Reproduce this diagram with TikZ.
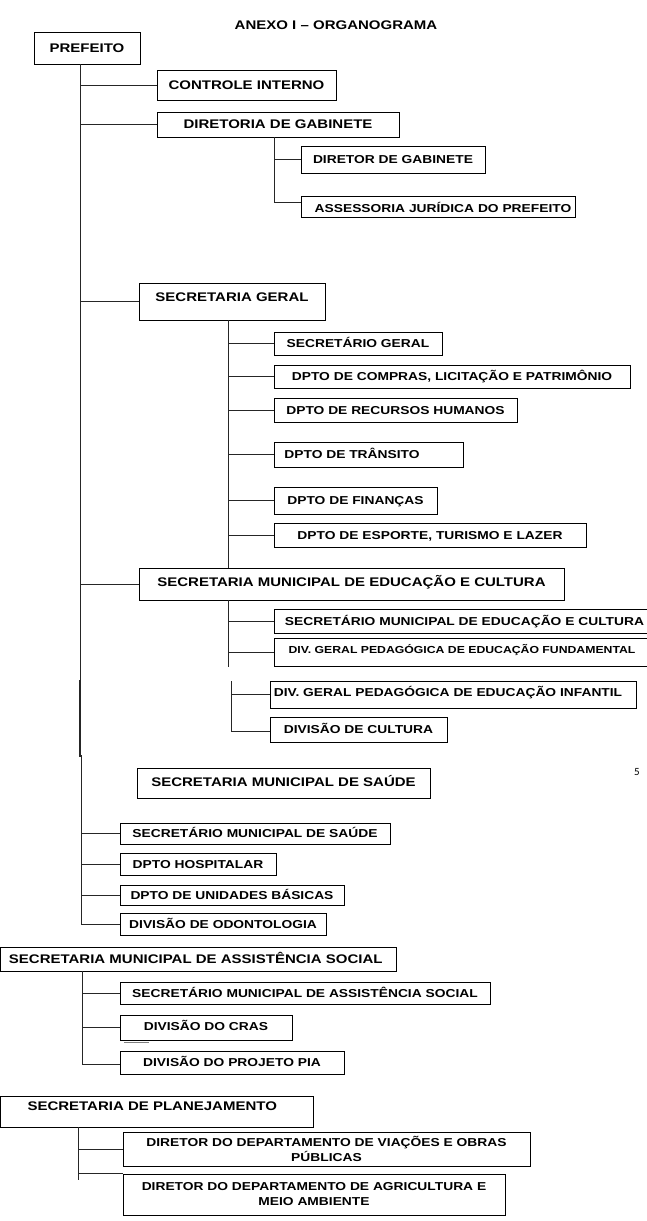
\documentclass[tikz,border=0pt]{standalone}
\usepackage{fontspec}
\setmainfont{Liberation Sans}[FakeStretch=1.2]
\newfontfamily\carl{Carlito}
\newcommand{\bx}[6]{\node[#1, minimum width={#4-#2}, minimum height={#5-#3}] (#6) at ({(#2+#4)/2},{(#3+#5)/2})}
\begin{document}
\begin{tikzpicture}[x=1pt,y=-1pt,
  lone/.style={draw=black, line width=0.9pt, inner sep=0pt, font=\fontsize{12.5}{15}\selectfont\bfseries, text height=8.95pt, text depth=0pt},
  ltwo/.style={lone, font=\fontsize{11.5}{14}\selectfont\bfseries, text height=8.23pt},
  lthree/.style={lone, font=\fontsize{10.2}{12}\selectfont\bfseries, text height=7.3pt},
  ltwoml/.style={draw=black, line width=0.9pt, inner sep=0pt, font=\fontsize{11.5}{15}\selectfont\bfseries, align=center},
  conn/.style={draw=black!85, line width=0.8pt}]
\useasboundingbox (0,0) rectangle (647,1221);
\clip (0,0) rectangle (647,1221);
\fill[white] (0,0) rectangle (647,1221);

\node[font=\fontsize{12.5}{15}\selectfont\bfseries] (title) at (336,25) {ANEXO I – ORGANOGRAMA};
\node[font=\carl\fontsize{11}{13}\selectfont] (pg) at (637,772) {5};

\bx{lone}{34}{32}{140}{64}{pref}{PREFEITO};
\bx{lone}{157}{70}{336}{100}{ci}{CONTROLE INTERNO};
\bx{lone}{157}{112}{399}{137}{dg}{DIRETORIA DE GABINETE};
\bx{ltwo}{301}{146}{485}{173}{dirgab}{DIRETOR DE GABINETE};
\bx{ltwo}{301}{196}{575}{217}{assess}{\hspace*{10pt}\raisebox{-2pt}{ASSESSORIA JURÍDICA DO PREFEITO}};
\bx{lone}{139}{283}{325}{320}{sg}{\raisebox{4pt}{SECRETARIA GERAL}};
\bx{ltwo}{274}{332}{442}{355}{secg}{SECRETÁRIO GERAL};
\bx{ltwo}{274}{365}{630}{388}{compras}{DPTO DE COMPRAS, LICITAÇÃO E PATRIMÔNIO};
\bx{ltwo}{274}{398}{517}{422}{rh}{DPTO DE RECURSOS HUMANOS};
\bx{ltwo}{274}{442}{463}{467}{trans}{\hspace*{-33pt}DPTO DE TRÂNSITO};
\bx{ltwo}{274}{487}{437}{514}{fin}{DPTO DE FINANÇAS};
\bx{ltwo}{274}{523}{586}{547}{esp}{DPTO DE ESPORTE, TURISMO E LAZER};
\bx{lone}{139}{568}{564}{600}{smec}{\raisebox{2pt}{SECRETARIA MUNICIPAL DE EDUCAÇÃO E CULTURA}};
\bx{ltwo}{274}{609}{655}{633}{secedu}{SECRETÁRIO MUNICIPAL DE EDUCAÇÃO E CULTURA};
\bx{lthree}{274}{638}{650}{666}{divfund}{\raisebox{2.5pt}{DIV. GERAL PEDAGÓGICA DE EDUCAÇÃO FUNDAMENTAL}};
\bx{ltwo}{270}{681}{636}{708}{divinf}{\hspace*{-10pt}\raisebox{2.5pt}{DIV. GERAL PEDAGÓGICA DE EDUCAÇÃO INFANTIL}};
\bx{ltwo}{270}{717}{447}{742}{divcult}{DIVISÃO DE CULTURA};
\bx{lone}{137}{768}{430}{798}{sms}{\raisebox{1pt}{SECRETARIA MUNICIPAL DE SAÚDE}};
\bx{ltwo}{120}{823}{390}{844}{ssaude}{SECRETÁRIO MUNICIPAL DE SAÚDE};
\bx{ltwo}{120}{853}{276}{875}{hosp}{DPTO HOSPITALAR};
\bx{ltwo}{120}{885}{344}{905}{unid}{DPTO DE UNIDADES BÁSICAS};
\bx{ltwo}{120}{913}{326}{935}{odont}{DIVISÃO DE ODONTOLOGIA};
\bx{lone}{0.5}{947}{396}{971}{smas}{\hspace*{-5pt}SECRETARIA MUNICIPAL DE ASSISTÊNCIA SOCIAL};
\bx{ltwo}{120}{982}{490}{1004}{sas}{SECRETÁRIO MUNICIPAL DE ASSISTÊNCIA SOCIAL};
\bx{ltwo}{120}{1015}{292}{1040}{cras}{\raisebox{1.5pt}{DIVISÃO DO CRAS}};
\bx{ltwo}{120}{1051}{344}{1074}{pia}{DIVISÃO DO PROJETO PIA};
\bx{lone}{0.5}{1096}{313}{1127}{plan}{\hspace*{-9pt}\raisebox{5pt}{SECRETARIA DE PLANEJAMENTO}};
\bx{ltwoml}{123}{1132}{530}{1166}{viac}{DIRETOR DO DEPARTAMENTO DE VIAÇÕES E OBRAS\\PÚBLICAS};
\bx{ltwoml}{123}{1174}{505}{1215}{agri}{DIRETOR DO DEPARTAMENTO DE AGRICULTURA E\\MEIO AMBIENTE};

% main trunk
\coordinate (m0) at (80,64);
\coordinate (m1) at (80,757);
\coordinate (m2) at (81.5,755);
\coordinate (m3) at (81.5,812);
\coordinate (m4) at (81,812);
\draw[conn] (m0) -- (m1);
\draw[conn, line width=1.3pt] (80,680) -- (m1);
\draw[conn] (m2) -- (m3);
\draw[conn] (m4) |- (odont.west);
\foreach \n in {ci,dg,sg,smec} \draw[conn] (\n.west -| m0) -- (\n.west);
\foreach \n in {ssaude,hosp,unid} \draw[conn] (\n.west -| m4) -- (\n.west);

% gabinete
\coordinate (g0) at (274,137);
\draw[conn] (g0) |- ([yshift=4.5pt]assess.west);
\draw[conn] (dirgab.west -| g0) -- (dirgab.west);

% secretaria geral
\coordinate (s0) at (228,320);
\coordinate (s1) at (228,568);
\draw[conn] (s0) -- (s1);
\foreach \n in {secg,compras,rh,trans,fin,esp} \draw[conn] (\n.west -| s0) -- (\n.west);

% educacao
\coordinate (e0) at (228,600);
\coordinate (e1) at (228,667);
\draw[conn] (e0) -- (e1);
\foreach \n in {secedu,divfund} \draw[conn] (\n.west -| e0) -- (\n.west);
\coordinate (e2) at (231,681);
\draw[conn] (e2) |- ([yshift=-1.5pt]divcult.west);
\draw[conn] (divinf.west -| e2) -- (divinf.west);

% assistencia social
\coordinate (a0) at (82,971);
\draw[conn] (a0) |- ([yshift=-1.5pt]pia.west);
\foreach \n in {sas,cras} \draw[conn] (\n.west -| a0) -- (\n.west);
\draw[black!50, line width=1pt] (124,1042) -- (149,1042);

% planejamento
\coordinate (p0) at (78,1127);
\coordinate (p1) at (78,1180);
\draw[conn] (p0) -- (p1);
\draw[conn] (viac.west -| p0) -- (viac.west);
\draw[conn] (agri.north west -| p0) -- (agri.north west);
\end{tikzpicture}
\end{document}
